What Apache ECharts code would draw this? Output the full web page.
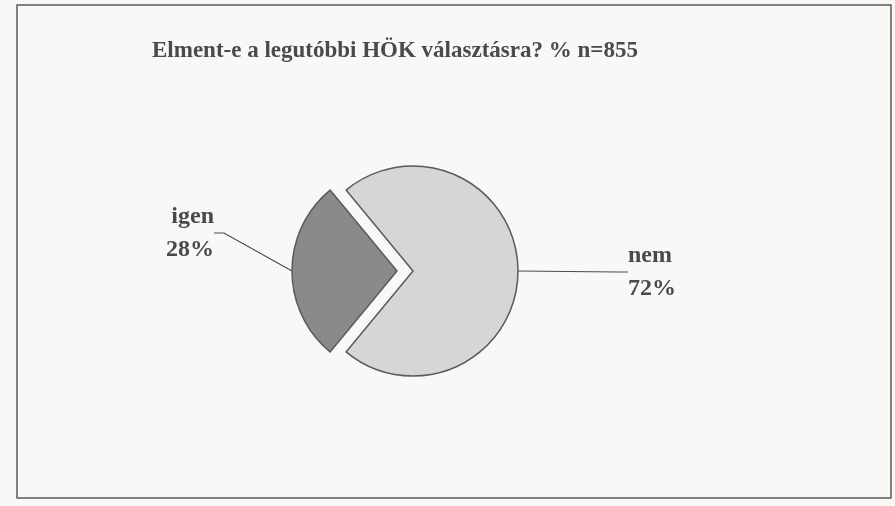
<!DOCTYPE html>
<html>
<head>
<meta charset="utf-8">
<script src="https://cdn.jsdelivr.net/npm/echarts@6/dist/echarts.min.js"></script>
<style>
html,body{margin:0;padding:0;background:#f8f8f6;}
#chart{width:895px;height:506px;}
</style>
</head>
<body>
<div id="chart"></div>
<script>
const titleText = 'Elment-e a legutóbbi HÖK választásra? % n=855';
const categories = ['nem', 'igen'];
const values = [72, 28];
const sliceColors = ['#d6d6d4', '#8a8a88'];
const explodedCategory = 'igen';
const labelPos = {nem: [628, 272], igen: [214, 233]};

const chart = echarts.init(document.getElementById('chart'), null, {renderer: 'canvas'});
const serif = '"Liberation Serif", "DejaVu Serif", serif';
const pieCenter = [413, 271];
const explodeOffset = 16;

function makeSeries(showCat, center) {
  return {
    type: 'pie',
    center: center,
    radius: 105,
    startAngle: 129.6,
    clockwise: true,
    silent: true,
    data: categories.map((c, i) => ({
      name: c,
      value: values[i],
      itemStyle: c === showCat
        ? {color: sliceColors[i], borderColor: '#5a5a5a', borderWidth: 1.5}
        : {color: 'transparent', borderWidth: 0},
      label: {show: c === showCat},
      labelLine: {show: c === showCat}
    })),
    label: {
      position: 'outside',
      formatter: '{b}\n{c}%',
      fontFamily: serif,
      fontWeight: 'bold',
      fontSize: 24,
      lineHeight: 33,
      color: '#4a4a4a'
    },
    labelLine: {
      length: 20,
      length2: 10,
      lineStyle: {color: '#4a4a4a', width: 1.2}
    },
    labelLayout: function (params) {
      const p = labelPos[categories[params.dataIndex]];
      return {x: p[0], y: p[1], verticalAlign: 'middle'};
    },
    emphasis: {disabled: true}
  };
}

// the exploded slice is pulled out along its bisector (pointing left)
const explodedCenter = [pieCenter[0] - explodeOffset, pieCenter[1]];

chart.setOption({
  backgroundColor: '#f8f8f6',
  animation: false,
  title: {
    text: titleText,
    left: 147,
    top: 35,
    textStyle: {fontFamily: serif, fontWeight: 'bold', fontSize: 23, color: '#4a4a4a'}
  },
  graphic: [{
    type: 'rect',
    shape: {x: 17, y: 5, width: 874, height: 493},
    style: {fill: 'transparent', stroke: '#5a5a5a', lineWidth: 1.5},
    silent: true
  }],
  series: [
    makeSeries('nem', pieCenter),
    makeSeries(explodedCategory, explodedCenter)
  ]
});
</script>
</body>
</html>
